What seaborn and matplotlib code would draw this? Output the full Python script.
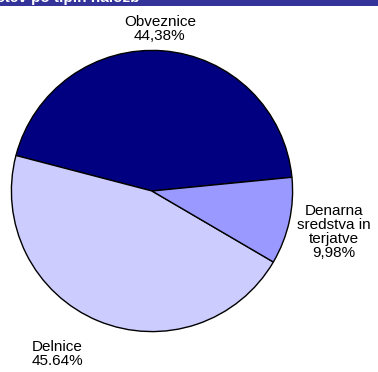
import matplotlib.pyplot as plt
import seaborn as sns

categories = ['Obveznice', 'Delnice', 'Denarna\nsredstva in\nterjatve']
shares = [44.38, 45.64, 9.98]
share_labels = ['44,38%', '45.64%', '9,98%']
colors = ['#000080', '#CCCCFF', '#9999FF']

sns.set_theme(style='white')
plt.rcParams['font.family'] = ['Liberation Sans', 'DejaVu Sans']

fig = plt.figure(figsize=(3.78, 3.72), dpi=100)
fig.patch.set_facecolor('white')

# header bar, cut off at the top of the picture
fig.patches.append(plt.Rectangle((0, 1 - 6 / 372), 1, 6 / 372, transform=fig.transFigure,
                                 facecolor='#333399', edgecolor='none', zorder=0))
fig.text(140 / 378, 1 - 2 / 372, 'sredstev po tipih naložb', color='white', fontsize=11,
         fontweight='bold', ha='right', va='baseline')

ax = fig.add_axes([10 / 378, 39 / 372, 284 / 378, 284 / 372])
wedges, _ = ax.pie(shares, colors=colors, startangle=5.6, counterclock=True, radius=1,
                   wedgeprops=dict(edgecolor='black', linewidth=1.0))
ax.set_xlim(-1.01, 1.01)
ax.set_ylim(-1.01, 1.01)
ax.set_aspect('equal')
ax.axis('off')

label_pos = [(0.056, 1.155), (-0.676, -1.162), (1.296, -0.289)]
for name, val, (x, y) in zip(categories, share_labels, label_pos):
    ax.text(x, y, f'{name}\n{val}', ha='center', va='center', fontsize=11,
            color='black', linespacing=1.0, clip_on=False)

fig.savefig('out.png', dpi=100)
